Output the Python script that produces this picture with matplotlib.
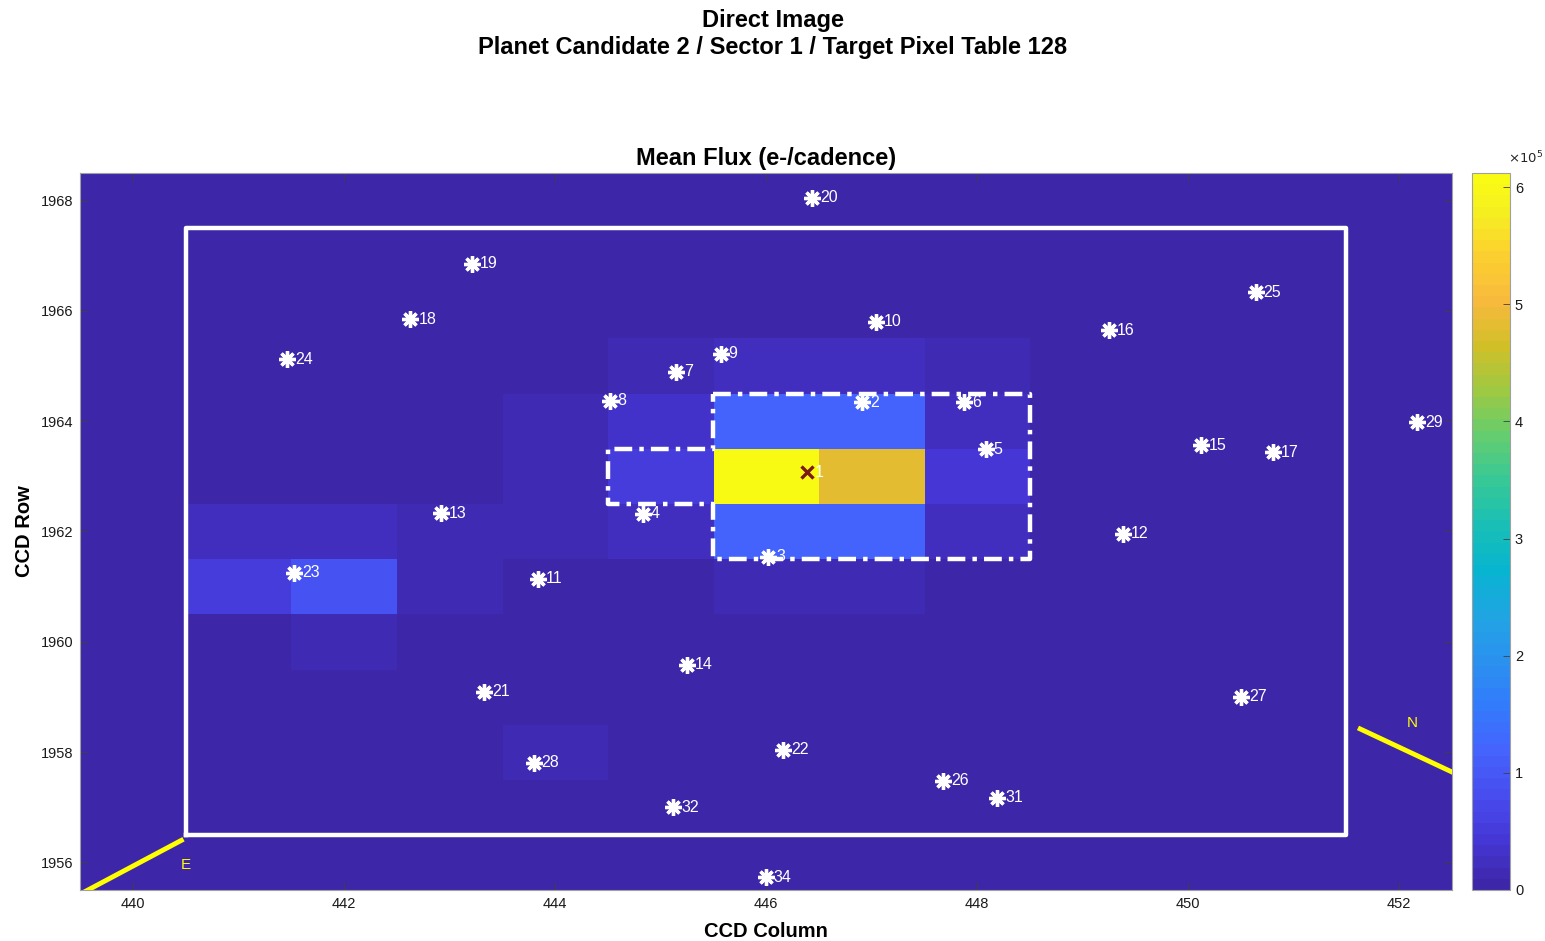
import numpy as np
import matplotlib
matplotlib.use("Agg")
import matplotlib.pyplot as plt
from matplotlib.colors import LinearSegmentedColormap

# === data ===
columns = [441, 442, 443, 444, 445, 446, 447, 448, 449, 450, 451]
rows = [1957, 1958, 1959, 1960, 1961, 1962, 1963, 1964, 1965, 1966, 1967]

# mean flux per pixel (e-/cadence), one list per row, from row 1957 up to 1967
flux_1957 = [4e3, 4e3, 4e3, 4e3, 4e3, 4e3, 4e3, 4e3, 4e3, 4e3, 4e3]
flux_1958 = [4e3, 4e3, 4e3, 1.3e4, 4e3, 4e3, 4e3, 4e3, 4e3, 4e3, 4e3]
flux_1959 = [4e3, 4e3, 4e3, 4e3, 4e3, 4e3, 4e3, 4e3, 4e3, 4e3, 4e3]
flux_1960 = [4e3, 1.3e4, 4e3, 4e3, 4e3, 4e3, 4e3, 4e3, 4e3, 4e3, 4e3]
flux_1961 = [5.0e4, 9.0e4, 1.5e4, 4e3, 4e3, 1.4e4, 1.4e4, 4e3, 4e3, 4e3, 4e3]
flux_1962 = [2.3e4, 2.3e4, 1.5e4, 1.4e4, 2.6e4, 1.2e5, 1.19e5, 2.4e4, 4e3, 4e3, 4e3]
flux_1963 = [4e3, 4e3, 4e3, 1.5e4, 5.5e4, 6.12e5, 4.83e5, 4.5e4, 4e3, 4e3, 4e3]
flux_1964 = [4e3, 4e3, 4e3, 1.4e4, 3.3e4, 1.2e5, 1.18e5, 2.4e4, 4e3, 4e3, 4e3]
flux_1965 = [4e3, 4e3, 4e3, 4e3, 1.4e4, 2.4e4, 2.4e4, 1.4e4, 4e3, 4e3, 4e3]
flux_1966 = [4e3, 4e3, 4e3, 4e3, 4e3, 4e3, 4e3, 4e3, 4e3, 4e3, 4e3]
flux_1967 = [4e3, 4e3, 4e3, 4e3, 4e3, 4e3, 4e3, 4e3, 4e3, 4e3, 4e3]

# stars around the target (CCD column, CCD row, label)
star_ids = [2, 3, 4, 5, 6, 7, 8, 9, 10, 11, 12, 13, 14, 15, 16, 17, 18, 19, 20,
            21, 22, 23, 24, 25, 26, 27, 28, 29, 31, 32, 34]
star_col = [446.91, 446.02, 444.83, 448.08, 447.88, 445.15, 444.52, 445.57, 447.04,
            443.84, 449.38, 442.92, 445.25, 450.12, 449.25, 450.80, 442.63, 443.21,
            446.44, 443.33, 446.16, 441.53, 441.46, 450.64, 447.68, 450.50, 443.80,
            452.17, 448.19, 445.12, 446.00]
star_row = [1964.34, 1961.54, 1962.32, 1963.49, 1964.34, 1964.90, 1964.37, 1965.22,
            1965.80, 1961.14, 1961.96, 1962.33, 1959.58, 1963.56, 1965.65, 1963.44,
            1965.85, 1966.85, 1968.05, 1959.09, 1958.04, 1961.25, 1965.12, 1966.34,
            1957.48, 1959.00, 1957.81, 1963.98, 1957.17, 1957.00, 1955.73]

target_col = 446.39
target_row = 1963.07

# optimal aperture outline (pixel edges)
aperture_col = [445.5, 448.5, 448.5, 445.5, 445.5, 444.5, 444.5, 445.5, 445.5]
aperture_row = [1964.5, 1964.5, 1961.5, 1961.5, 1962.5, 1962.5, 1963.5, 1963.5, 1964.5]

# target pixel table boundary
mask_col = [440.5, 451.5, 451.5, 440.5, 440.5]
mask_row = [1956.5, 1956.5, 1967.5, 1967.5, 1956.5]

# compass arrows
east_col = [439.3, 440.46]
east_row = [1955.22, 1956.40]
north_col = [451.63, 452.9]
north_row = [1958.42, 1957.28]

flux = np.array([flux_1957, flux_1958, flux_1959, flux_1960, flux_1961, flux_1962,
                 flux_1963, flux_1964, flux_1965, flux_1966, flux_1967])

# === parula-like colormap ===
parula_pts = [
    (0.2422, 0.1504, 0.6603), (0.2706, 0.2147, 0.8364), (0.2813, 0.3006, 0.9414),
    (0.2699, 0.3892, 0.9906), (0.1963, 0.4847, 0.9892), (0.1687, 0.5703, 0.9359),
    (0.1248, 0.6459, 0.8883), (0.0297, 0.7082, 0.8163), (0.0964, 0.7500, 0.7120),
    (0.2161, 0.7843, 0.5923), (0.3909, 0.8029, 0.4354), (0.6174, 0.7876, 0.2612),
    (0.8203, 0.7498, 0.1535), (0.9728, 0.7298, 0.2394), (0.9892, 0.8136, 0.1885),
    (0.9628, 0.9373, 0.1265), (0.9769, 0.9839, 0.0805)]
parula_pos = [0, 4, 8, 12, 16, 20, 24, 28, 32, 36, 40, 44, 48, 52, 56, 60, 63]
parula = LinearSegmentedColormap.from_list(
    "parula", [(p / 63, c) for p, c in zip(parula_pos, parula_pts)], N=64)

plt.rcParams['font.family'] = ['Liberation Sans', 'DejaVu Sans']

fig = plt.figure(figsize=(15.45, 9.41), dpi=100)
ax = fig.add_axes([0.0518, 0.0542, 0.888, 0.762])
cax = fig.add_axes([0.9528, 0.0542, 0.0246, 0.762])

ax.set_facecolor(parula(0))
im = ax.imshow(flux, cmap=parula, vmin=0, vmax=flux.max(), origin='lower',
               extent=[columns[0] - 0.5, columns[-1] + 0.5, rows[0] - 0.5, rows[-1] + 0.5],
               aspect='auto', interpolation='nearest', zorder=1)

ax.plot(mask_col, mask_row, color='white', lw=3.2, zorder=3)
ax.plot(aperture_col, aperture_row, color='white', lw=3.2, linestyle=(0, (4, 1.6, 1, 1.6)),
        zorder=3)

ax.plot(star_col, star_row, linestyle='none', marker=(8, 2, 0), markersize=12,
        markeredgecolor='white', markeredgewidth=2.4, zorder=4)
for c, r, s in zip(star_col, star_row, star_ids):
    ax.text(c + 0.075, r, str(s), color='white', fontsize=11.5, ha='left', va='center',
            zorder=5, clip_on=True)

ax.plot([target_col], [target_row], linestyle='none', marker='x', markersize=9,
        markeredgecolor='#7a1a1a', markeredgewidth=2.4, zorder=5)
ax.text(target_col + 0.075, target_row, '1', color='white', fontsize=11.5,
        ha='left', va='center', zorder=5)

ax.plot(east_col, east_row, color='#ffff00', lw=3.5, zorder=4, clip_on=True)
ax.plot(north_col, north_row, color='#ffff00', lw=3.5, zorder=4, clip_on=True)
ax.text(440.5, 1955.96, 'E', color='#ffff00', fontsize=11, ha='center', va='center', zorder=5)
ax.text(452.12, 1958.53, 'N', color='#ffff00', fontsize=11, ha='center', va='center', zorder=5)

ax.set_xlim(439.5, 452.5)
ax.set_ylim(1955.5, 1968.5)
ax.set_xticks(range(440, 453, 2))
ax.set_yticks(range(1956, 1969, 2))
ax.tick_params(direction='in', top=True, right=True, length=6, width=0.6,
               color='#404040', labelsize=10.5, labelcolor='#1a1a1a', pad=5)
for sp in ax.spines.values():
    sp.set_color('#a0a0a0')
    sp.set_linewidth(0.8)

ax.set_title('Mean Flux (e-/cadence)', fontsize=17, fontweight='bold', pad=6)
ax.set_xlabel('CCD Column', fontsize=14.5, fontweight='bold', labelpad=8)
ax.set_ylabel('CCD Row', fontsize=14.5, fontweight='bold', labelpad=5)

fig.suptitle('Direct Image\nPlanet Candidate 2 / Sector 1 / Target Pixel Table 128',
             fontsize=17, fontweight='bold', y=0.99, linespacing=1.2)

cb = fig.colorbar(im, cax=cax)
cb.set_ticks([0, 1e5, 2e5, 3e5, 4e5, 5e5, 6e5])
cb.set_ticklabels(['0', '1', '2', '3', '4', '5', '6'])
cb.ax.tick_params(direction='in', length=5, width=0.6, color='#404040',
                  labelsize=10.5, labelcolor='#1a1a1a')
cb.outline.set_edgecolor('#a0a0a0')
cb.outline.set_linewidth(0.8)
fig.text(0.9875, 0.832, r'$\times 10^5$', fontsize=9.5, color='#262626', ha='center',
         va='center')

plt.savefig('out.png', dpi=100)
